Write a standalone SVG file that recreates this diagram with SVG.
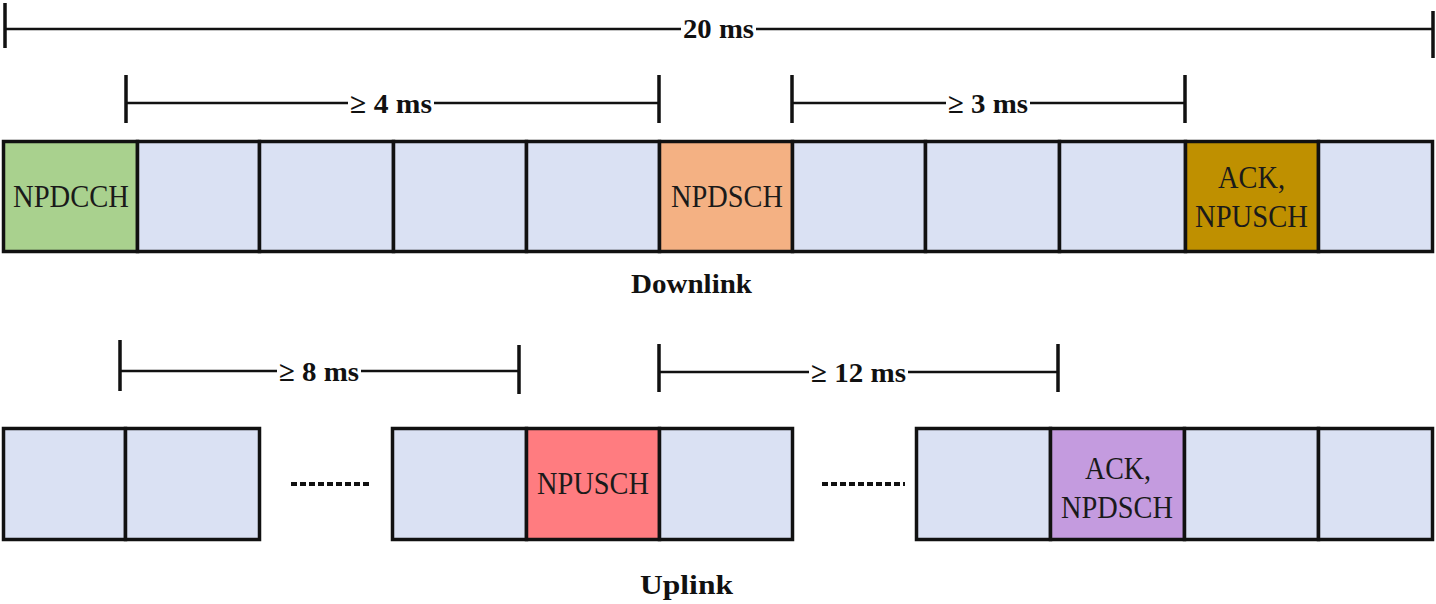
<svg xmlns="http://www.w3.org/2000/svg" width="1436" height="604" viewBox="0 0 1436 604">
<style>
.cell{fill:#DAE1F3;stroke:#111;stroke-width:3.5}
.g{fill:#A9D18E}.o{fill:#F4B183}.y{fill:#BF9000}.r{fill:#FF7C80}.p{fill:#C49BDF}
.t{font-size:32px;fill:#1a1a1a}
.b{font-size:28px;font-weight:bold;fill:#111}
.dim{stroke:#111;stroke-width:2.5;fill:none}
.tick{stroke:#111;stroke-width:3.5;fill:none}
.dots{stroke:#111;stroke-width:4;stroke-dasharray:6 3;fill:none}
</style>
<g id="connectors">
<path class="dim" d="M4 29H681M756 29H1433"/>
<path class="tick" d="M5 3V48M1433 11V58"/>
<path class="dim" d="M126 103H348M434 103H659"/>
<path class="tick" d="M126 75V123M659 75V123"/>
<path class="dim" d="M792 103H946M1030 103H1185"/>
<path class="tick" d="M792 75V123M1185 75V123"/>
<path class="dim" d="M120 371H277M361 371H519"/>
<path class="tick" d="M120 340V391M519 345V394"/>
<path class="dim" d="M659 372H809M908 372H1058"/>
<path class="tick" d="M659 344V392M1058 344V392"/>
<path class="dots" d="M291 484H371"/>
<path class="dots" d="M822 484H905"/>
</g>
<g id="labels" font-family="Liberation Serif, Tinos, Times New Roman, serif">
<text class="b" x="683" y="38" textLength="71" lengthAdjust="spacingAndGlyphs">20 ms</text>
<text class="b" x="350" y="113" textLength="82" lengthAdjust="spacingAndGlyphs">≥ 4 ms</text>
<text class="b" x="948" y="113" textLength="80" lengthAdjust="spacingAndGlyphs">≥ 3 ms</text>
<text class="b" x="279" y="381" textLength="80" lengthAdjust="spacingAndGlyphs">≥ 8 ms</text>
<text class="b" x="811" y="382" textLength="95" lengthAdjust="spacingAndGlyphs">≥ 12 ms</text>
<text class="b" x="631" y="293" textLength="121" lengthAdjust="spacingAndGlyphs">Downlink</text>
<text class="b" x="640" y="594" textLength="93" lengthAdjust="spacingAndGlyphs">Uplink</text>
</g>
<g id="downlink" font-family="Liberation Serif, Tinos, Times New Roman, serif">
<g id="dl1"><rect class="cell g" x="3.5" y="141.5" width="134" height="110"/><text class="t" x="13" y="207" textLength="116" lengthAdjust="spacingAndGlyphs">NPDCCH</text></g>
<g id="dl2"><rect class="cell" x="137.5" y="141.5" width="122" height="110"/></g>
<g id="dl3"><rect class="cell" x="259.5" y="141.5" width="134" height="110"/></g>
<g id="dl4"><rect class="cell" x="393.5" y="141.5" width="133" height="110"/></g>
<g id="dl5"><rect class="cell" x="526.5" y="141.5" width="133" height="110"/></g>
<g id="dl6"><rect class="cell o" x="659.5" y="141.5" width="133" height="110"/><text class="t" x="671" y="207" textLength="112" lengthAdjust="spacingAndGlyphs">NPDSCH</text></g>
<g id="dl7"><rect class="cell" x="792.5" y="141.5" width="133" height="110"/></g>
<g id="dl8"><rect class="cell" x="925.5" y="141.5" width="134" height="110"/></g>
<g id="dl9"><rect class="cell" x="1059.5" y="141.5" width="126" height="110"/></g>
<g id="dl10"><rect class="cell y" x="1185.5" y="141.5" width="133" height="110"/><text class="t" x="1218" y="188" textLength="67" lengthAdjust="spacingAndGlyphs">ACK,</text><text class="t" x="1195" y="227" textLength="113" lengthAdjust="spacingAndGlyphs">NPUSCH</text></g>
<g id="dl11"><rect class="cell" x="1318.5" y="141.5" width="114" height="110"/></g>
</g>
<g id="uplink" font-family="Liberation Serif, Tinos, Times New Roman, serif">
<g id="ul1"><rect class="cell" x="3.5" y="428.5" width="122" height="111"/></g>
<g id="ul2"><rect class="cell" x="125.5" y="428.5" width="134" height="111"/></g>
<g id="ul3"><rect class="cell" x="392.5" y="428.5" width="134" height="111"/></g>
<g id="ul4"><rect class="cell r" x="526.5" y="428.5" width="133" height="111"/><text class="t" x="537" y="494" textLength="112" lengthAdjust="spacingAndGlyphs">NPUSCH</text></g>
<g id="ul5"><rect class="cell" x="659.5" y="428.5" width="133" height="111"/></g>
<g id="ul6"><rect class="cell" x="916.5" y="428.5" width="134" height="111"/></g>
<g id="ul7"><rect class="cell p" x="1050.5" y="428.5" width="134" height="111"/><text class="t" x="1085" y="479" textLength="66" lengthAdjust="spacingAndGlyphs">ACK,</text><text class="t" x="1061" y="518" textLength="112" lengthAdjust="spacingAndGlyphs">NPDSCH</text></g>
<g id="ul8"><rect class="cell" x="1184.5" y="428.5" width="134" height="111"/></g>
<g id="ul9"><rect class="cell" x="1318.5" y="428.5" width="114" height="111"/></g>
</g>
</svg>
